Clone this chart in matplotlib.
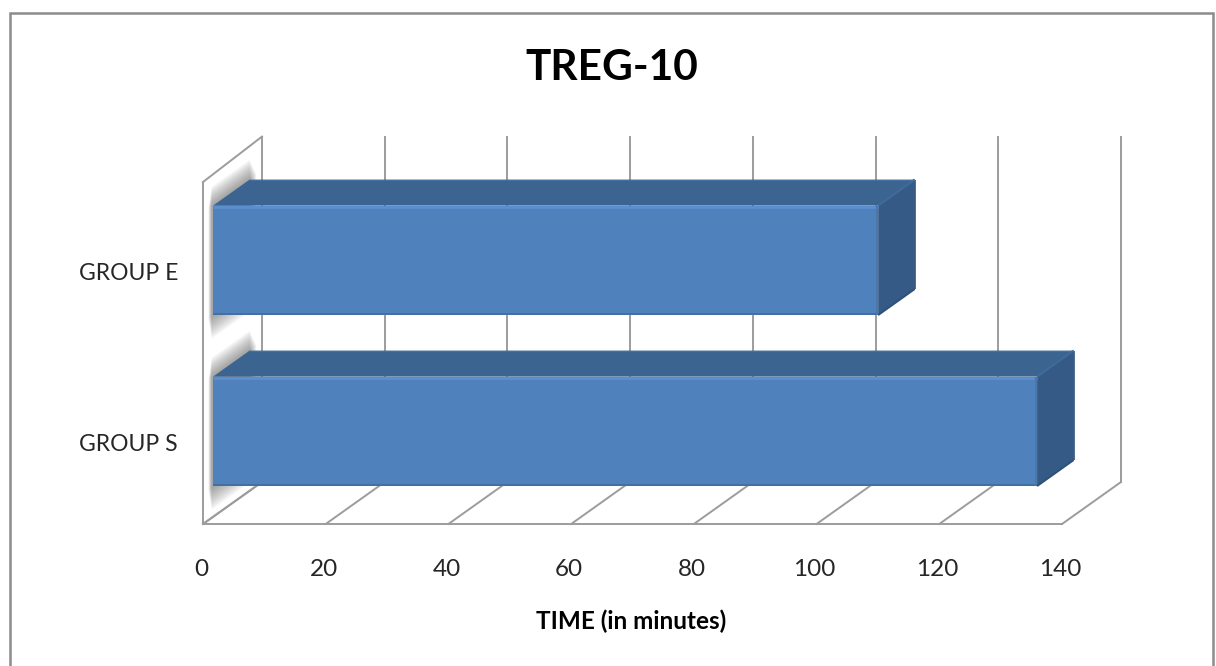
import numpy as np
import matplotlib
matplotlib.use("Agg")
import matplotlib.pyplot as plt
from matplotlib.patches import Polygon, Rectangle

# Chart data
groups = ["GROUP S", "GROUP E"]
minutes = [134.3, 108.4]
value_ticks = [0, 20, 40, 60, 80, 100, 120, 140]
title_text = "TREG-10"
axis_label = "TIME (in minutes)"

W, H = 1216, 666
plt.rcParams["font.family"] = ["Lato", "DejaVu Sans"]

fig = plt.figure(figsize=(W / 100, H / 100), dpi=100, facecolor="white")
# Front plane of the oblique box
L, R, B, T = 203, 1062, 524, 182
ax = fig.add_axes([L / W, 1 - B / H, (R - L) / W, (B - T) / H])
ax.set_xlim(0, 140)
ax.set_ylim(0, 2)
ax.axis("off")

# Oblique depth vector, in pixels, converted to data units
px_x = 140 / (R - L)
px_y = 2 / (B - T)
DX, DY = 59 * px_x, 42 * px_y


def proj(value, cat, depth):
    return value + depth * DX, cat + depth * DY


GRID = "#9c9c9c"
lw = 1.4


def wall_line(p, q, **kw):
    ax.plot([p[0], q[0]], [p[1], q[1]], color=GRID, lw=lw, clip_on=False,
            solid_capstyle="projecting", **kw)


# Back wall and floor lines
for v in value_ticks:
    wall_line(proj(v, 0, 1), proj(v, 2.02, 1), zorder=1)
    wall_line(proj(v, 0, 0), proj(v, 0, 1), zorder=1)
wall_line(proj(0, 0, 0), proj(140, 0, 0), zorder=1)

# Left wall outline
wall_line(proj(0, 0, 0), proj(0, 2, 0), zorder=2)
wall_line(proj(0, 2, 0), proj(0, 2.02, 1), zorder=2)
wall_line(proj(0, 0, 0), proj(0, 0, 1), zorder=2)

# Box geometry of each bar
D0, D1 = 0.17, 0.79
HALF = 0.32
FRONT = "#4f81bd"
TOP = "#3c6490"
SIDE = "#345a85"

for i, val in enumerate(minutes):
    c = i + 0.5
    lo, hi = c - HALF, c + HALF

    # Soft shadow falling on the left wall, built from stacked translucent bands
    for k in range(20, 0, -1):
        g = k * px_y
        near = D0 - 0.08 + 0.003 * k
        far = D1 + 0.12 - 0.006 * k
        band = [proj(0, lo - g * 1.15, near), proj(0, hi + g, near),
                proj(0, hi + g, far), proj(0, lo - g * 1.15, far)]
        ax.add_patch(Polygon(band, closed=True, fc="#505050", ec="none",
                             alpha=0.032, zorder=3, clip_on=False))

    # Front face
    ax.barh(c + D0 * DY, val, height=2 * HALF, left=D0 * DX, color=FRONT,
            edgecolor="none", zorder=6, clip_on=False)
    # Top face
    ax.add_patch(Polygon([proj(0, hi, D0), proj(val, hi, D0),
                          proj(val, hi, D1), proj(0, hi, D1)],
                         closed=True, fc=TOP, ec="none", zorder=5, clip_on=False))
    # Right face
    ax.add_patch(Polygon([proj(val, lo, D0), proj(val, hi, D0),
                          proj(val, hi, D1), proj(val, lo, D1)],
                         closed=True, fc=SIDE, ec="none", zorder=5, clip_on=False))
    # Bevel highlights along the edges
    for (p, q, col, w) in [
        (proj(0, hi - 1.5 * px_y, D0), proj(val, hi - 1.5 * px_y, D0), "#5b8fd0", 2.0),
        (proj(0, lo + 1 * px_y, D0), proj(val, lo + 1 * px_y, D0), "#44709f", 1.4),
        (proj(val - 1 * px_x, lo, D0), proj(val - 1 * px_x, hi, D0), "#4a78ad", 1.6),
        (proj(val, hi, D0), proj(val, hi, D1), "#3f6a9b", 1.6),
        (proj(val, lo, D0), proj(val, lo, D1), "#2f5178", 1.4),
        (proj(val, hi, D1), proj(val, lo, D1), "#2f5379", 1.2),
        (proj(0, hi, D1), proj(val, hi, D1), "#44709f", 0.8),
    ]:
        ax.plot([p[0], q[0]], [p[1], q[1]], color=col, lw=w, zorder=7,
                solid_capstyle="butt", clip_on=False)

# Value labels under the floor
for v in value_ticks:
    ax.annotate(str(v), xy=(v, 0), xytext=(-2, -45), textcoords="offset pixels",
                ha="center", va="center", fontsize=17.5, color="#262626")

# Category labels
for i, name in enumerate(groups):
    ax.annotate(name, xy=(0, i + 0.5), xytext=(-25, -6),
                textcoords="offset pixels", ha="right", va="center",
                fontsize=16.5, color="#262626")

# Titles
fig.text(612 / W, 1 - 68 / H, title_text, ha="center", va="center",
         fontsize=30.5, fontweight="bold", color="black")
fig.text(631 / W, 1 - 621 / H, axis_label, ha="center", va="center",
         fontsize=17.5, fontweight="bold", color="black")

# Chart border
fig.add_artist(Rectangle((9.5 / W, -0.02), (1213 - 9.5) / W, 1.02 - 12.5 / H,
                         transform=fig.transFigure, fc="none", ec="#8c8c8c",
                         lw=1.8))

fig.savefig("out.png", dpi=100)
